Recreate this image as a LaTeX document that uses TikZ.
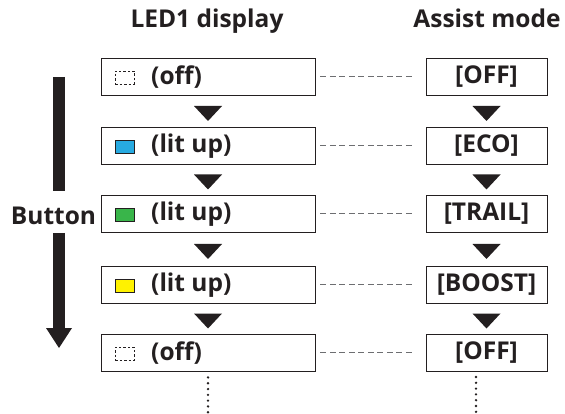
\documentclass[tikz,border=0pt]{standalone}
\usepackage{fontspec}
\setmainfont{Open Sans}
\usetikzlibrary{calc}
\definecolor{txt}{HTML}{231F20}
\definecolor{linkc}{HTML}{6D6E71}
\definecolor{ledblue}{HTML}{27AAE1}
\definecolor{ledgreen}{HTML}{39B54A}
\definecolor{ledyellow}{HTML}{FFF200}
\begin{document}
\begin{tikzpicture}[x=1pt,y=-1pt,
  every node/.style={font=\fontsize{24.5}{24.5}\selectfont\bfseries, text=txt, inner sep=0pt},
  ledbox/.style={draw=txt, line width=0.9pt, minimum width=214pt, minimum height=37pt},
  modebox/.style={draw=txt, line width=0.9pt, minimum width=121pt, minimum height=37pt},
  ledtext/.style={anchor=west},
  ledoff/.style={draw=txt, line width=0.6pt, dash pattern=on 2.5pt off 2pt, minimum width=19pt, minimum height=13pt},
  ledon/.style={draw=txt, line width=0.8pt, minimum width=19pt, minimum height=13pt},
  link/.style={draw=linkc, line width=0.7pt, dash pattern=on 6pt off 3.5pt, shorten <=5pt, shorten >=11pt},
  dots/.style={draw=txt, line width=2.6pt, line cap=round, dash pattern=on 0pt off 5.8pt},
  downtri/.pic={\fill[txt] (-14,-5) -- (14,-5) -- (0,10) -- cycle;},
  head/.style={anchor=base}
]
\useasboundingbox (0,0) rectangle (565,414);

% headers
\node[head] (h1) at (207,28) {LED1 display};
\node[head] (h2) at (487,28) {Assist mode};

% left boxes
\node[ledbox] (l1) at (208,76.5) {};
\node[ledbox] (l2) at (208,145.5) {};
\node[ledbox] (l3) at (208,213.5) {};
\node[ledbox] (l4) at (208,284.5) {};
\node[ledbox] (l5) at (208,352.5) {};

% right boxes
\node[modebox] (m1) at (486.5,76.5) {[OFF]};
\node[modebox] (m2) at (486.5,145.5) {[ECO]};
\node[modebox] (m3) at (486.5,213.5) {[TRAIL]};
\node[modebox] (m4) at (486.5,284.5) {[BOOST]};
\node[modebox] (m5) at (486.5,352.5) {[OFF]};

% LED icons and texts
\node[ledoff] (i1) at (124.5,77.5) {};
\node[ledon, fill=ledblue] (i2) at (124.5,146.5) {};
\node[ledon, fill=ledgreen] (i3) at (124.5,214.5) {};
\node[ledon, fill=ledyellow] (i4) at (124.5,285.5) {};
\node[ledoff] (i5) at (124.5,353.5) {};

\node[ledtext] (t1) at (151,77) {(off)};
\node[ledtext] (t2) at (151,146) {(lit up)};
\node[ledtext] (t3) at (151,214) {(lit up)};
\node[ledtext] (t4) at (151,285) {(lit up)};
\node[ledtext] (t5) at (151,353) {(off)};

% dashed links
\foreach \i in {1,...,5} {\draw[link] (l\i.east) -- (m\i.west);}

% triangles
\foreach \a/\b in {1/2,2/3,3/4,4/5} {
  \path ($(l\a.south)!0.5!(l\b.north)$) pic {downtri};
  \path ($(m\a.south)!0.5!(m\b.north)$) pic {downtri};
}

% dotted continuation
\coordinate (d1) at (208,413);
\coordinate (d2) at (476,413);
\draw[dots] ([yshift=-6pt]l5.south) -- (d1);
\draw[dots] (476,377) -- (d2);

% Button arrow
\node[head] (btn) at (53.5,225) {Button};
\coordinate (atop) at (59,77);
\coordinate (abrk1) at (59,191);
\coordinate (abrk2) at (59,233);
\coordinate (ahead) at (59,329);
\coordinate (atip) at (59,348);
\draw[txt, line width=12pt] (atop) -- (abrk1);
\draw[txt, line width=12pt] (abrk2) -- (ahead);
\fill[txt] ($(ahead)+(-13,-1)$) -- ($(ahead)+(13,-1)$) -- (atip) -- cycle;
\end{tikzpicture}
\end{document}
